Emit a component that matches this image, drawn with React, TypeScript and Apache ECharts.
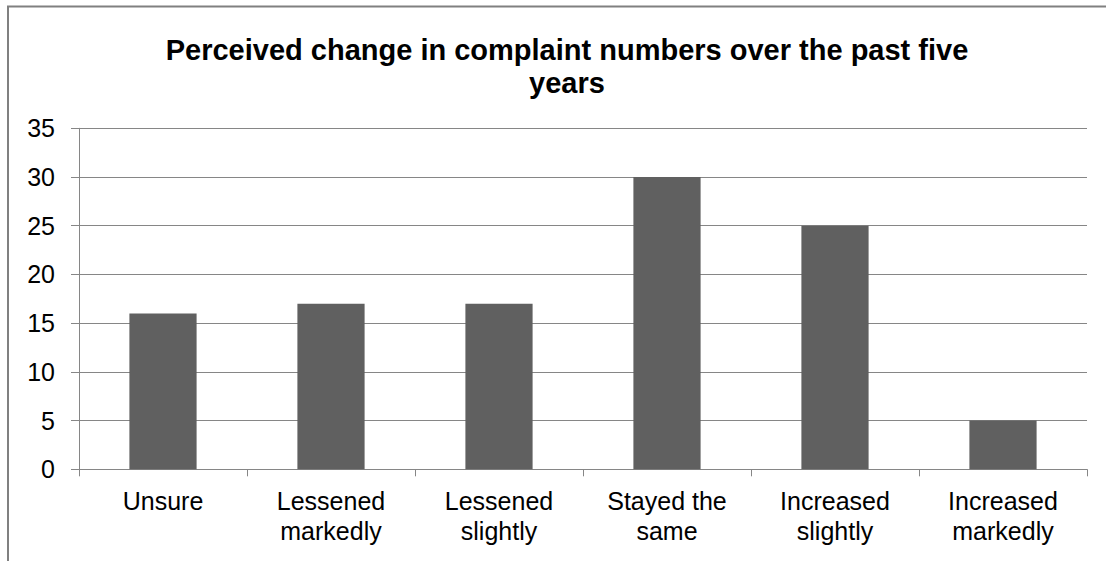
import React, { useEffect, useRef } from "react";
import * as echarts from "echarts";

const titleText = "Perceived change in complaint numbers over the past five\nyears";
const categories = [
  "Unsure",
  "Lessened\nmarkedly",
  "Lessened\nslightly",
  "Stayed the\nsame",
  "Increased\nslightly",
  "Increased\nmarkedly",
];
const values = [16, 17, 17, 30, 25, 5];
const yMin = 0;
const yMax = 35;
const yStep = 5;

const FONT = "'Liberation Sans', Arial, Helvetica, sans-serif";
const GRAY = "#868686";

export default function App() {
  const ref = useRef<HTMLDivElement>(null);

  useEffect(() => {
    if (!ref.current) return;
    const chart = echarts.init(ref.current, undefined, { renderer: "svg" });
    chart.setOption({
      animation: false,
      backgroundColor: "#ffffff",
      textStyle: { fontFamily: FONT },
      title: {
        text: titleText,
        left: 562,
        top: 28,
        textAlign: "center",
        textStyle: {
          fontFamily: FONT,
          fontSize: 29,
          fontWeight: "bold",
          color: "#000000",
          lineHeight: 33,
        },
      },
      graphic: [
        {
          type: "line",
          shape: { x1: 7, y1: 6.5, x2: 1106, y2: 6.5 },
          style: { stroke: "#808080", lineWidth: 2 },
        },
        {
          type: "line",
          shape: { x1: 8, y1: 6, x2: 8, y2: 561 },
          style: { stroke: "#808080", lineWidth: 2 },
        },
      ],
      grid: {
        left: 79,
        right: 19,
        top: 128.3,
        bottom: 91.7,
        containLabel: false,
      },
      xAxis: {
        type: "category",
        data: categories,
        boundaryGap: true,
        axisLine: { show: true, lineStyle: { color: GRAY, width: 1 } },
        axisTick: {
          show: true,
          alignWithLabel: false,
          length: 7,
          lineStyle: { color: GRAY, width: 1 },
        },
        axisLabel: {
          interval: 0,
          margin: 17,
          fontFamily: FONT,
          fontSize: 25,
          lineHeight: 30,
          color: "#000000",
        },
        splitLine: { show: false },
      },
      yAxis: {
        type: "value",
        min: yMin,
        max: yMax,
        interval: yStep,
        axisLine: { show: true, lineStyle: { color: GRAY, width: 1 } },
        axisTick: { show: true, length: 8, lineStyle: { color: GRAY, width: 1 } },
        axisLabel: {
          margin: 24,
          fontFamily: FONT,
          fontSize: 25,
          color: "#000000",
        },
        splitLine: { show: true, lineStyle: { color: GRAY, width: 1 } },
      },
      series: [
        {
          type: "bar",
          data: values,
          barCategoryGap: "60%",
          itemStyle: { color: "#606060" },
        },
      ],
    });
    return () => chart.dispose();
  }, []);

  return (
    <div
      ref={ref}
      style={{ position: "fixed", left: 0, top: 0, width: 1106, height: 561 }}
    />
  );
}
